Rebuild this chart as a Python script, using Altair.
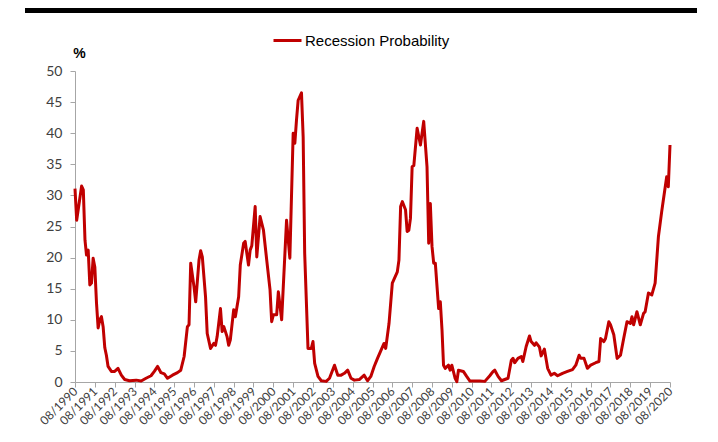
import altair as alt
import pandas as pd

months = [
    "1990-08", "1990-09", "1990-12", "1991-01", "1991-02", "1991-03", "1991-04", "1991-05",
    "1991-06", "1991-07", "1991-08", "1991-09", "1991-10", "1991-11", "1991-12", "1992-01",
    "1992-02", "1992-03", "1992-04", "1992-06", "1992-08", "1992-10", "1992-12", "1993-02",
    "1993-05", "1993-09", "1993-12", "1994-03", "1994-06", "1994-08", "1994-10", "1994-12",
    "1995-02", "1995-04", "1995-07", "1995-10", "1995-12", "1996-02", "1996-04", "1996-05",
    "1996-06", "1996-08", "1996-09", "1996-11", "1996-12", "1997-01", "1997-03", "1997-04",
    "1997-06", "1997-08", "1997-09", "1997-10", "1997-12", "1998-01", "1998-02", "1998-04",
    "1998-05", "1998-06", "1998-08", "1998-09", "1998-11", "1998-12", "1999-02", "1999-03",
    "1999-05", "1999-06", "1999-07", "1999-09", "1999-10", "1999-12", "2000-02", "2000-04",
    "2000-06", "2000-07", "2000-08", "2000-10", "2000-11", "2001-01", "2001-04", "2001-06",
    "2001-08", "2001-09", "2001-10", "2001-11", "2002-01", "2002-02", "2002-03", "2002-05",
    "2002-07", "2002-08", "2002-09", "2002-11", "2003-01", "2003-04", "2003-06", "2003-09",
    "2003-11", "2004-01", "2004-03", "2004-05", "2004-07", "2004-09", "2004-12", "2005-03",
    "2005-05", "2005-07", "2005-09", "2005-11", "2006-03", "2006-04", "2006-06", "2006-08",
    "2006-11", "2006-12", "2007-01", "2007-02", "2007-04", "2007-05", "2007-06", "2007-07",
    "2007-08", "2007-09", "2007-11", "2008-01", "2008-03", "2008-05", "2008-06", "2008-07",
    "2008-08", "2008-09", "2008-10", "2008-12", "2009-01", "2009-02", "2009-03", "2009-04",
    "2009-06", "2009-07", "2009-08", "2009-10", "2009-11", "2009-12", "2010-03", "2010-05",
    "2010-07", "2011-01", "2011-04", "2011-07", "2011-09", "2011-10", "2011-12", "2012-02",
    "2012-06", "2012-08", "2012-09", "2012-10", "2012-12", "2013-02", "2013-03", "2013-05",
    "2013-07", "2013-08", "2013-10", "2013-11", "2014-01", "2014-02", "2014-04", "2014-06",
    "2014-08", "2014-10", "2014-12", "2015-03", "2015-06", "2015-09", "2015-11", "2016-01",
    "2016-02", "2016-04", "2016-06", "2016-08", "2016-11", "2017-01", "2017-02", "2017-04",
    "2017-05", "2017-07", "2017-08", "2017-10", "2017-12", "2018-02", "2018-04", "2018-06",
    "2018-08", "2018-09", "2018-10", "2018-12", "2019-02", "2019-04", "2019-05", "2019-07",
    "2019-09", "2019-11", "2020-01", "2020-03", "2020-04", "2020-06", "2020-07", "2020-08",
]

probability = [
    31.1, 26.0, 31.5, 30.9, 22.8, 20.4, 21.2, 15.6,
    15.9, 19.9, 18.5, 12.7, 8.7, 10.0, 10.5, 8.9,
    5.5, 4.3, 2.5, 1.7, 1.7, 2.2, 1.1, 0.4,
    0.2, 0.3, 0.15, 0.6, 1.0, 1.7, 2.5, 1.5,
    1.3, 0.6, 1.1, 1.5, 1.9, 4.1, 8.9, 9.2,
    19.1, 15.3, 12.9, 19.6, 21.1, 20.1, 13.7, 7.8,
    5.4, 6.2, 5.9, 7.3, 11.8, 8.1, 8.9, 7.3,
    5.9, 6.8, 11.6, 10.5, 13.7, 18.8, 22.3, 22.6,
    18.8, 21.2, 21.9, 28.2, 20.1, 26.6, 24.4, 19.6,
    14.8, 9.7, 10.8, 10.8, 14.5, 10.0, 26.0, 19.9,
    40.0, 38.4, 42.1, 45.3, 46.5, 39.4, 20.7, 5.4,
    5.4, 6.5, 3.0, 0.9, 0.2, 0.1, 0.6, 2.7,
    1.1, 1.1, 1.4, 1.9, 0.6, 0.3, 0.4, 1.1,
    0.2, 0.9, 2.5, 3.8, 6.2, 5.4, 9.4, 15.9,
    17.7, 19.6, 28.2, 29.0, 27.7, 24.2, 24.4, 26.3,
    34.6, 34.8, 40.8, 38.1, 41.9, 34.6, 22.3, 28.7,
    21.8, 19.1, 19.1, 11.8, 12.9, 8.4, 2.7, 2.2,
    2.7, 1.9, 2.7, 0.6, 0.05, 1.9, 1.7, 0.9,
    0.15, 0.15, 0.1, 1.0, 1.7, 1.9, 0.9, 0.2,
    0.6, 3.5, 3.8, 3.1, 3.8, 4.1, 3.3, 5.7,
    7.4, 6.5, 5.9, 6.3, 5.6, 4.2, 5.3, 2.2,
    1.1, 1.4, 1.0, 1.4, 1.7, 2.0, 2.7, 4.3,
    3.8, 3.8, 2.2, 2.7, 3.1, 3.3, 7.0, 6.5,
    7.0, 9.7, 9.2, 7.6, 3.8, 4.3, 7.0, 9.7,
    9.4, 10.5, 9.2, 11.3, 9.2, 11.0, 11.3, 14.3,
    14.0, 15.9, 23.4, 27.4, 29.3, 33.0, 31.4, 38.1,
]

series_name = "Recession Probability"
tick_years = list(range(1990, 2021))
y_ticks = list(range(0, 51, 5))

df = pd.DataFrame({
    "date": [m + "-01" for m in months],
    "value": probability,
    "series": series_name,
})

x_values = [alt.DateTime(year=y, month=8, date=1, utc=True) for y in tick_years]

line = alt.Chart(df).mark_line(strokeWidth=3, strokeJoin="round").encode(
    x=alt.X(
        "date:T",
        scale=alt.Scale(
            type="utc",
            domain=[alt.DateTime(year=1990, month=8, date=1, utc=True),
                    alt.DateTime(year=2020, month=8, date=1, utc=True)],
            nice=False,
        ),
        axis=alt.Axis(
            values=x_values,
            format="%m/%Y",
            labelAngle=-45,
            labelAlign="right",
            labelBaseline="middle",
            labelFontSize=12,
            labelPadding=2,
            labelOverlap=False,
            title=None,
        ),
    ),
    y=alt.Y(
        "value:Q",
        scale=alt.Scale(domain=[0, 50], nice=False),
        axis=alt.Axis(
            values=y_ticks,
            labelFontSize=14,
            labelPadding=8,
            title="%",
            titleAngle=0,
            titleX=4,
            titleY=-18,
            titleAlign="center",
            titleBaseline="middle",
            titleFontSize=14,
            titleFont="Liberation Sans",
            titleFontWeight="bold",
            titleColor="#000000",
        ),
    ),
    color=alt.Color(
        "series:N",
        scale=alt.Scale(range=["#C00000"]),
        legend=alt.Legend(
            title=None,
            orient="none",
            legendX=197,
            legendY=-46,
            symbolType="stroke",
            symbolSize=784,
            symbolStrokeWidth=3,
            labelFontSize=15,
            labelFont="Liberation Sans",
            labelColor="#000000",
            labelOffset=2,
            padding=0,
        ),
    ),
)

top_bar = alt.Chart(df).mark_rule(color="#000000", strokeWidth=5).encode(
    x=alt.value(-50), x2=alt.value(622), y=alt.value(-61)
)

chart = alt.layer(line, top_bar).properties(
    width=595,
    height=311,
    autosize=alt.AutoSizeParams(type="none"),
    padding={"left": 67, "top": 63, "right": 40, "bottom": 52},
).configure_view(stroke=None).configure_axis(
    grid=False,
    domainColor="#A6A6A6",
    tickColor="#A6A6A6",
    tickSize=5,
    labelFont="Lato",
    labelColor="#404040",
)

chart.save("out.html", embed_options={"renderer": "svg", "actions": False})
